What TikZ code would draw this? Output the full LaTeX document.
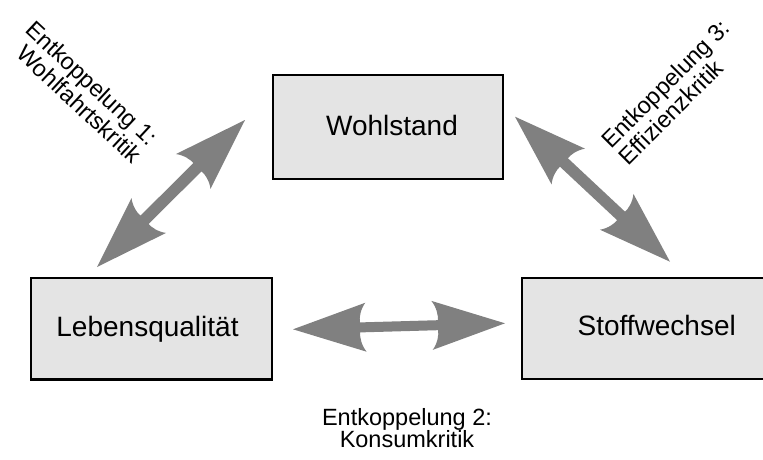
\documentclass[tikz,border=0pt]{standalone}
\usepackage{fontspec}
\setmainfont{Liberation Sans}
\usetikzlibrary{calc}
\definecolor{boxfill}{HTML}{E4E4E4}
\definecolor{arrowfill}{HTML}{808080}
\newcommand\dblarrow[3]{%
\fill[arrowfill] (#1)
 -- ($(#1)!73pt!(#2)!24.5pt!90:(#2)$)
 .. controls ($(#1)!68pt!(#2)!18pt!90:(#2)$) and ($(#1)!66.5pt!(#2)!10pt!90:(#2)$) .. ($(#1)!67pt!(#2)!#3!90:(#2)$)
 -- ($(#2)!67pt!(#1)!#3!-90:(#1)$)
 .. controls ($(#2)!66.5pt!(#1)!10pt!-90:(#1)$) and ($(#2)!68pt!(#1)!18pt!-90:(#1)$) .. ($(#2)!73pt!(#1)!24.5pt!-90:(#1)$)
 -- (#2)
 -- ($(#2)!73pt!(#1)!24.5pt!90:(#1)$)
 .. controls ($(#2)!68pt!(#1)!18pt!90:(#1)$) and ($(#2)!66.5pt!(#1)!10pt!90:(#1)$) .. ($(#2)!67pt!(#1)!#3!90:(#1)$)
 -- ($(#1)!67pt!(#2)!#3!-90:(#2)$)
 .. controls ($(#1)!66.5pt!(#2)!10pt!-90:(#2)$) and ($(#1)!68pt!(#2)!18pt!-90:(#2)$) .. ($(#1)!73pt!(#2)!24.5pt!-90:(#2)$)
 -- cycle;}
\begin{document}
\begin{tikzpicture}[x=1pt,y=-1pt,
  box/.style={draw=black, fill=boxfill, line width=2.3pt, rectangle, inner sep=0pt, outer sep=0pt},
  boxtext/.style={font=\fontsize{28}{32}\selectfont, inner sep=0pt, anchor=base},
  lbl/.style={font=\fontsize{23.5}{24}\selectfont, inner sep=0pt},
  lblb/.style={font=\fontsize{23.5}{22.5}\selectfont, inner sep=0pt}]
\useasboundingbox (0,0) rectangle (763,460);
\clip (0,0) rectangle (763,460);
% boxes
\node[box, minimum width=230pt, minimum height=103.4pt] (wohl) at (387.8,127) {};
\node[box, minimum width=241.3pt, minimum height=101.3pt] (leben) at (151.3,328.7) {};
\node[box, minimum width=253pt, minimum height=101pt] (stoff) at (648.5,328.5) {};
% box texts
\node[boxtext] (wohlt) at (392,135) {Wohlstand};
\node[boxtext] (lebent) at (147.5,336) {Lebensqualität};
\node[boxtext] (stofft) at (656.7,335) {Stoffwechsel};
% arrow ends
\coordinate (a1w) at (245,120);
\coordinate (a1l) at (97,267);
\coordinate (a2l) at (293,329.3);
\coordinate (a2s) at (505,323.3);
\coordinate (a3w) at (515,116.7);
\coordinate (a3s) at (670,261.7);
\dblarrow{a1l}{a1w}{5.8pt}
\dblarrow{a2l}{a2s}{5pt}
\dblarrow{a3w}{a3s}{5.8pt}
% labels
\node[lbl, rotate=-43, align=right] (k1) at (84,92) {Entkoppelung 1:\\Wohlfahrtskritik};
\node[lbl, rotate=45, align=left] (k3) at (674,92) {Entkoppelung 3:\\Effizienzkritik};
\node[lblb, align=center, anchor=north] (k2) at (407,408) {Entkoppelung 2:\\Konsumkritik};
\end{tikzpicture}
\end{document}
